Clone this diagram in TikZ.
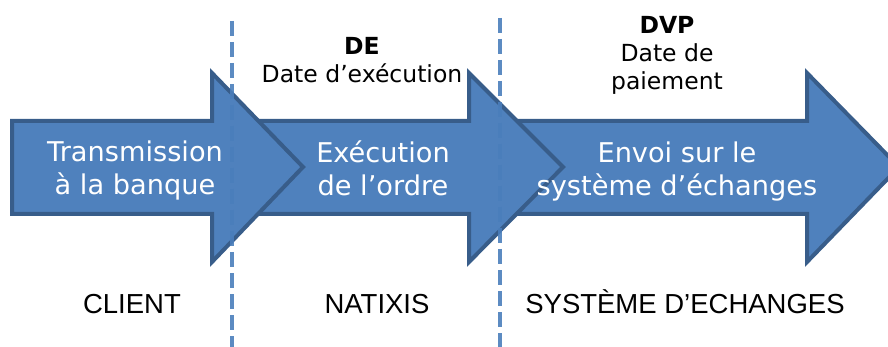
\documentclass[tikz,border=0pt]{standalone}
\usepackage{fontspec}
\setmainfont{DejaVu Sans}
\newfontfamily\arialf{Liberation Sans}
\definecolor{arrfill}{RGB}{79,129,189}
\definecolor{arrdraw}{RGB}{56,93,138}
\definecolor{dashc}{RGB}{74,126,187}
\begin{document}
\begin{tikzpicture}[x=1pt,y=-1pt,
  blockarrow/.style={fill=arrfill, draw=arrdraw, line width=4pt, line join=miter},
  divider/.style={draw=dashc, line width=4.5pt, dash pattern=on 15pt off 6pt},
  intext/.style={text=white, font=\fontsize{27.2}{33}\selectfont, align=center, inner sep=0pt},
  toptext/.style={font=\fontsize{23.5}{28}\selectfont, align=center, inner sep=0pt},
  bottext/.style={font=\arialf\fontsize{27.5}{32}\selectfont, inner sep=0pt, anchor=base}]
\useasboundingbox (0,0) rectangle (888,347);
\clip (0,0) rectangle (888,347);
% arrows (drawn right to left so earlier ones overlap later ones)
\draw[blockarrow] (480,121) -- (807,121) -- (807,73) -- (899,167) -- (807,262) -- (807,214) -- (480,214) -- cycle;
\draw[blockarrow] (220,121) -- (469,121) -- (469,73) -- (563,167) -- (469,262) -- (469,214) -- (220,214) -- cycle;
\draw[blockarrow] (12,121) -- (212,121) -- (212,73) -- (303,167) -- (212,262) -- (212,214) -- (12,214) -- cycle;
% dividers
\coordinate (d1t) at (232,21);
\coordinate (d1b) at (232,347);
\coordinate (d2t) at (500,18);
\coordinate (d2b) at (500,347);
\draw[divider, opacity=0.9] (d1t) -- (d1b);
\draw[divider, opacity=0.9] (d2t) -- (d2b);
% arrow texts
\node[intext] (t1) at (135,170) {Transmission\\à la banque};
\node[intext] (t2) at (383,168) {Exécution\\de l’ordre};
\node[intext] (t3) at (677,171) {Envoi sur le\\système d’échanges};
% top labels
\node[toptext] (de) at (362,60) {\textbf{DE}\\Date d’exécution};
\node[toptext] (dvp) at (667,55) {\textbf{DVP}\\Date de\\paiement};
% bottom labels
\node[bottext] (client) at (132,313) {CLIENT};
\node[bottext] (natixis) at (377,313) {NATIXIS};
\node[bottext] (sys) at (685,313) {SYSTÈME D’ECHANGES};
\end{tikzpicture}
\end{document}
